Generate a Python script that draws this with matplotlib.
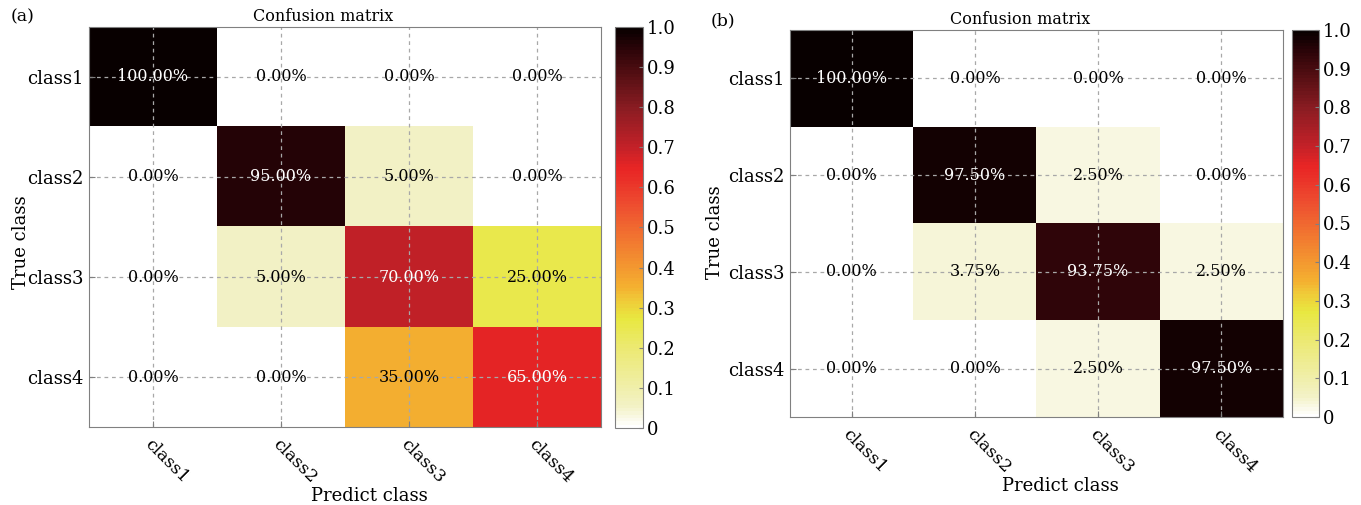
import numpy as np
import matplotlib
matplotlib.use("Agg")
import matplotlib.pyplot as plt
from matplotlib.colors import LinearSegmentedColormap

plt.rcParams['font.family'] = ['DejaVu Serif']

classes = ["class1", "class2", "class3", "class4"]

# Row-normalised confusion matrices (rows: true class, columns: predicted class)
cm_a = np.array([
    [1.00, 0.00, 0.00, 0.00],
    [0.00, 0.95, 0.05, 0.00],
    [0.00, 0.05, 0.70, 0.25],
    [0.00, 0.00, 0.35, 0.65],
])
cm_b = np.array([
    [1.00, 0.00, 0.00, 0.00],
    [0.00, 0.975, 0.025, 0.00],
    [0.00, 0.0375, 0.9375, 0.025],
    [0.00, 0.00, 0.025, 0.975],
])

cbar_ticks = [0, 0.1, 0.2, 0.3, 0.4, 0.5, 0.6, 0.7, 0.8, 0.9, 1.0]
cbar_labels = ["0", "0.1", "0.2", "0.3", "0.4", "0.5", "0.6", "0.7", "0.8", "0.9", "1.0"]

# Printed "hot"-style palette: white -> yellow -> orange -> red -> black
cmap_nodes = [
    (0.000, "#ffffff"), (0.025, "#f9f8e2"), (0.050, "#f3f2c6"),
    (0.100, "#f0efa8"), (0.200, "#ece970"), (0.270, "#e8e840"),
    (0.320, "#f0c838"), (0.350, "#f4b030"), (0.450, "#f28030"),
    (0.550, "#ee5030"), (0.620, "#ea3028"), (0.650, "#e82525"),
    (0.700, "#c42128"), (0.800, "#8a1c22"), (0.900, "#4a0c10"),
    (0.950, "#2a0408"), (1.000, "#080000"),
]
cmap = LinearSegmentedColormap.from_list("printed_hot", cmap_nodes, N=120)

W, H = 1361, 505
fig = plt.figure(figsize=(W / 100, H / 100), dpi=100)


def frac(x0, y0, x1, y1):
    return [x0 / W, 1 - y1 / H, (x1 - x0) / W, (y1 - y0) / H]


edge = "#808080"


def draw_panel(cm, ax_box, cb_box, tag, tag_xy, title_x, ylabel_y, ylabel_pad):
    ax = fig.add_axes(frac(*ax_box))
    cax = fig.add_axes(frac(*cb_box))
    im = ax.imshow(cm, cmap=cmap, vmin=0, vmax=1, aspect="auto",
                   interpolation="nearest")
    ax.set_xticks(range(len(classes)))
    ax.set_yticks(range(len(classes)))
    ax.set_xticklabels(classes, rotation=-45, ha="left", va="top",
                       rotation_mode="anchor", fontsize=12.5)
    ax.set_yticklabels(classes, fontsize=13)
    ax.tick_params(direction="in", length=4, color=edge, pad=4)
    ax.tick_params(axis="x", pad=6)
    ax.grid(True, linestyle=(0, (3, 3)), color="#a8a8a8", linewidth=0.9)
    for s in ax.spines.values():
        s.set_color(edge)
    ax.set_title("Confusion matrix", fontsize=11.5, pad=4, x=title_x)
    ax.set_xlabel("Predict class", fontsize=13, labelpad=1, x=0.548)
    ax.set_ylabel("True class", fontsize=13, labelpad=ylabel_pad, y=ylabel_y)
    for i in range(cm.shape[0]):
        for j in range(cm.shape[1]):
            v = cm[i, j]
            ax.text(j, i, f"{v * 100:.2f}%", ha="center", va="center",
                    fontsize=11.5, color="white" if v > 0.5 else "black")
    cb = fig.colorbar(im, cax=cax, ticks=cbar_ticks)
    cb.ax.set_yticklabels(cbar_labels, fontsize=13)
    cb.ax.tick_params(direction="in", length=3, color=edge, pad=3)
    cb.outline.set_edgecolor(edge)
    fig.text(tag_xy[0] / W, 1 - tag_xy[1] / H, tag, fontsize=12.5,
             ha="left", va="center")
    return ax


draw_panel(cm_a, (89, 27, 601, 427), (615, 27, 643, 428), "(a)", (11, 17),
           0.458, 0.462, -2)
draw_panel(cm_b, (790, 30, 1283, 417), (1292, 30, 1319, 417), "(b)", (711, 21),
           0.467, 0.477, 3)

fig.savefig("out.png", dpi=100)
